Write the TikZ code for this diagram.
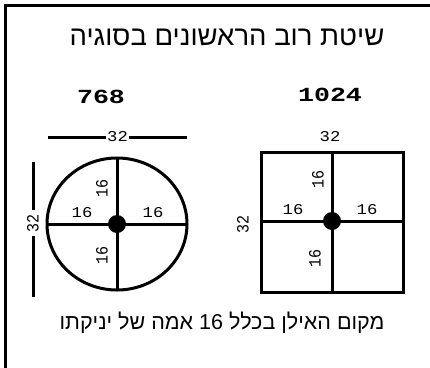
\documentclass[tikz,border=0pt]{standalone}
\usepackage{fontspec}
\newfontfamily\hebfont[Script=Hebrew]{Liberation Sans}
\newfontfamily\digfont{Liberation Mono}
\TeXXeTstate=1
\begin{document}
\begin{tikzpicture}[x=1pt,y=-1pt,
  thk/.style={line width=3pt},
  small/.style={font=\digfont\fontsize{15}{15}\selectfont, inner sep=1pt, xscale=1.15, transform shape},
  big/.style={font=\digfont\bfseries\fontsize{20}{20}\selectfont, inner sep=0pt, xscale=1.33, transform shape},
  gap/.style={fill=white, inner sep=2pt}]
\useasboundingbox (0,0) rectangle (430,367);
\fill[white] (0,0) rectangle (430,367);
% frame
\coordinate (fa) at (5,5);
\coordinate (fb) at (436,5);
\coordinate (fc) at (5,372);
\draw[line width=3pt] (fb) -- (fa) -- (fc);
% title
\node[font=\hebfont\fontsize{27.5}{27.5}\selectfont] (title) at (227,37) {\beginR שיטת רוב הראשונים בסוגיה\endR};
% numbers
\node[big] (n768) at (101,97) {768};
\node[big] (n1024) at (330,95) {1024};
% circle
\coordinate (cc) at (117,224);
\draw[thk] (cc) ellipse [x radius=70, y radius=66];
\coordinate (cl) at (47,224);
\coordinate (cr) at (187,224);
\coordinate (ct) at (117,158);
\coordinate (cb) at (117,290);
\draw[thk] (cl) -- (cr);
\draw[thk] (ct) -- (cb);
\fill (cc) circle (9);
\node[small, rotate=90] (c16t) at (102,188) {16};
\node[small, rotate=90] (c16b) at (102,255) {16};
\node[small] (c16l) at (82,213) {16};
\node[small] (c16r) at (153,213) {16};
% circle dimensions
\coordinate (dh1) at (48,137);
\coordinate (dh2) at (187,137);
\draw[thk] (dh1) -- node[gap, small] (c32h) {32} (dh2);
\coordinate (dv1) at (33,162);
\coordinate (dv2) at (33,297);
\draw[thk] (dv1) -- (dv2);
\node[gap, small, rotate=90, minimum width=26pt] (c32v) at (33,223) {32};
% square
\coordinate (sa) at (261,152);
\coordinate (sb) at (403,292);
\draw[thk] (sa) rectangle (sb);
\coordinate (sc) at (332,221);
\coordinate (sl) at (261,221);
\coordinate (sr) at (403,221);
\coordinate (st) at (332,152);
\coordinate (sbt) at (332,292);
\draw[thk] (sl) -- (sr);
\draw[thk] (st) -- (sbt);
\fill (sc) circle (9);
\node[small, rotate=90] (s16t) at (318,179) {16};
\node[small, rotate=90] (s16b) at (315,258) {16};
\node[small] (s16l) at (293,210) {16};
\node[small] (s16r) at (367,210) {16};
\node[small] (s32h) at (330,137) {32};
\node[small, rotate=90] (s32v) at (243,224) {32};
% bottom caption
\node[font=\hebfont\fontsize{21.5}{21.5}\selectfont] (cap) at (222,323) {\beginR מקום האילן בכלל \beginL 16\endL{} אמה של יניקתו\endR};
\end{tikzpicture}
\end{document}
